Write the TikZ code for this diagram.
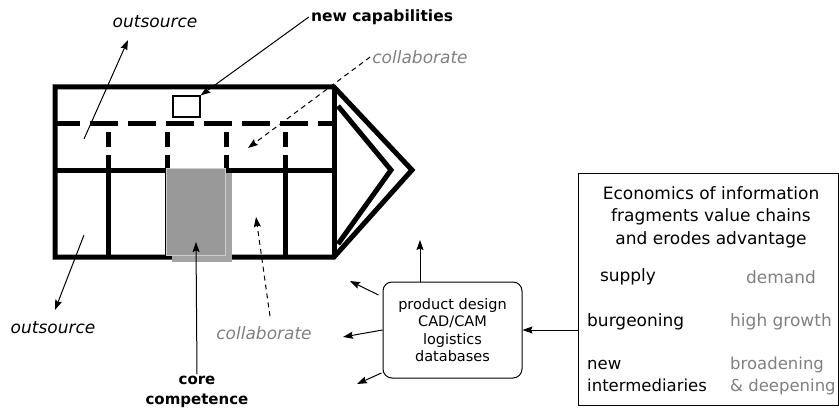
\documentclass[tikz,border=0pt]{standalone}
\usepackage{fontspec}
\setmainfont{DejaVu Sans}
\usetikzlibrary{arrows.meta, positioning, arrows, calc}

\definecolor{txtgray}{HTML}{808080}
\definecolor{corefront}{HTML}{999999}
\definecolor{coreback}{HTML}{A3A3A3}

\begin{document}
\begin{tikzpicture}[x=1pt, y=-1pt, >={Stealth[length=10pt, width=7pt, inset=1.5pt]}, line join=miter,
    every node/.style={font=\fontsize{17}{21}\selectfont, inner sep=2pt},
    wall/.style={line width=5pt},
    dwall/.style={line width=5pt, dash pattern=on 28pt off 10pt, dash phase=5pt},
    vwall/.style={line width=5pt, dash pattern=on 15pt off 8pt},
    pointer/.style={->, line width=1pt},
    dpointer/.style={->, line width=1pt, dash pattern=on 5pt off 4pt},
    grey/.style={text=txtgray}]

                                \useasboundingbox (0,0) rectangle (839,412);

                                % the value chain
                                \draw[wall] (55,87) -- (334,87) -- (412,170) -- (334,257) -- (55,257) -- cycle;
                                \draw[wall] (338,106) -- (391,170) -- (338,244);
                                \draw[wall] (334,87) -- (334,257);
                                \draw[dwall] (57,124) -- (333,124);
                                \foreach \x in {108,167,226,285}
                                        \draw[vwall] (\x,132) -- (\x,170);
                                \draw[wall] (55,170) -- (334,170);
                                \foreach \x in {108,167,226,285}
                                        \draw[wall] (\x,170) -- (\x,257);
                                \fill[coreback] (172,173) rectangle (232,262);
                                \draw[draw=black!20, fill=corefront, line width=0.8pt] (166,168) rectangle (225,255);

                                \node (nb) [draw, line width=1.1pt, minimum width=27pt, minimum height=21pt] at (186.5,106.5) {};

                                % labels
                                \node (os1) at (155,22) {\itshape outsource};
                                \node (cap) [font=\fontsize{15.5}{19}\selectfont\bfseries] at (382,17) {new capabilities};
                                \node (col1) [grey] at (420,57) {\itshape collaborate};
                                \node (os2) at (53,328) {\itshape outsource};
                                \node (col2) [grey] at (264,333) {\itshape collaborate};
                                \node (core) [align=center, font=\fontsize{15}{20}\selectfont\bfseries] at (197,392) {core\\competence};

                                \node (prod) [draw, rounded corners=9pt, line width=1pt, align=center, minimum width=139pt, minimum height=96pt,
                                        font=\fontsize{14.5}{17.5}\selectfont] at (452.5,330) {product design\\CAD/CAM\\logistics\\databases};

                                \node (econ) [draw, line width=1pt, minimum width=260pt, minimum height=232pt] at (708,289) {};
                                \node (title) [align=center, font=\fontsize{17}{22.5}\selectfont] at (711,217) {Economics of information\\fragments value chains\\and erodes advantage};
                                \node (sup) at (628,277) {supply};
                                \node (dem) [grey] at (781,277) {demand};
                                \node (bur) [anchor=west] at (585,322) {burgeoning};
                                \node (hig) [grey, anchor=west] at (728,322) {high growth};
                                \node (nwi) [anchor=west, align=left, font=\fontsize{16.5}{22}\selectfont] at (585,376) {new\\intermediaries};
                                \node (bro) [grey, anchor=west, align=left, font=\fontsize{16.5}{22}\selectfont] at (728,376) {broadening\\\& deepening};

                                % free ends
                                \coordinate (a1) at (84,139);
                                \coordinate (a1e) at (128,40);
                                \coordinate (a2) at (84,235);
                                \coordinate (a2e) at (55,310);
                                \coordinate (c1e) at (248,148);
                                \coordinate (c2e) at (256,217);
                                \coordinate (k1e) at (196,242);
                                \coordinate (p1e) at (420,240);
                                \coordinate (p2e) at (350,281);
                                \coordinate (p3e) at (343,337);
                                \coordinate (p4e) at (357,384);

                                \draw[pointer] (a1) to (a1e);
                                \draw[pointer] (a2) to (a2e);
                                \draw[pointer] (cap.west) to (nb.north east);
                                \draw[dpointer] (col1.west) to (c1e);
                                \draw[dpointer] (col2.north) ++(6,-8) to (c2e);
                                \draw[pointer] (core.north) to (k1e);

                                \draw[pointer] (prod.north -| p1e) to (p1e);
                                \draw[pointer] ($(prod.west)+(-4,-35)$) to (p2e);
                                \draw[pointer] (prod.west) to (p3e);
                                \draw[pointer] ($(prod.west)+(-1,43)$) to (p4e);
                                \draw[pointer] (econ.west |- prod.west) to (prod.east);
                        \end{tikzpicture}
\end{document}
